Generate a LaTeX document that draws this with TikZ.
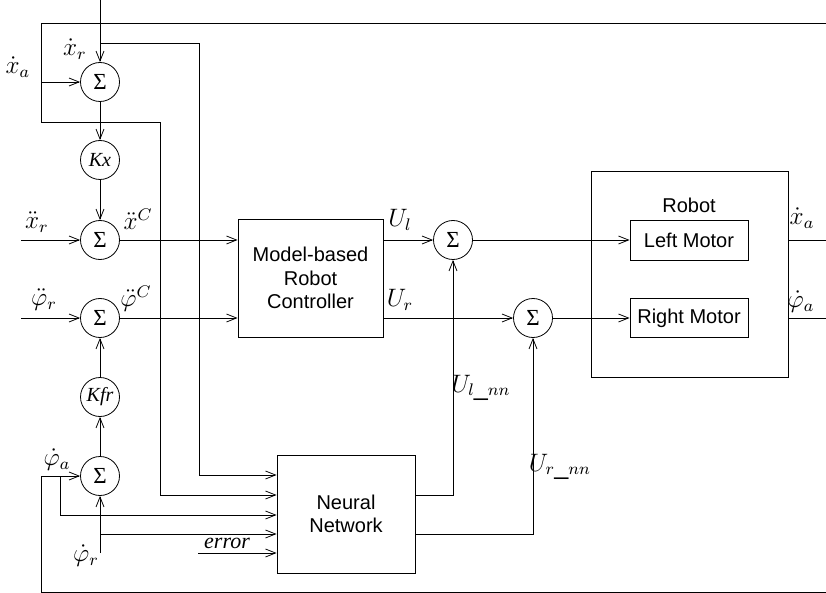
\documentclass[tikz,border=0pt]{standalone}
\usepackage{fontspec}
\setmainfont{Liberation Sans}
\newfontfamily\tms{Liberation Serif}
\usetikzlibrary{arrows.meta}
\newcommand{\mylbl}[1]{\scalebox{2.1}{\fontsize{12}{12}\selectfont$#1$}}
\begin{document}
\begin{tikzpicture}[x=1pt,y=-1pt,line width=0.8pt,
  >={Straight Barb[length=10pt,width=8pt,line width=0.8pt]},
  sumnode/.style={draw,circle,minimum size=39pt,inner sep=0pt,font=\fontsize{23}{23}\selectfont\tms},
  gainnode/.style={draw,circle,minimum size=39pt,inner sep=0pt,font=\fontsize{20}{20}\selectfont\tms\itshape},
  blockbox/.style={draw,rectangle,inner sep=0pt,align=center,font=\fontsize{20}{23.5}\selectfont},
  mlabel/.style={inner sep=0pt},
  txtlabel/.style={inner sep=0pt,font=\fontsize{20}{20}\selectfont}]
\useasboundingbox (0,0) rectangle (826,593);

% nodes
\node[sumnode] (s1) at (100,82) {Σ};
\node[gainnode] (kx) at (100,160) {Kx};
\node[sumnode] (s2) at (100,240) {Σ};
\node[sumnode] (s3) at (100,318) {Σ};
\node[gainnode] (kfr) at (100,397) {Kfr};
\node[sumnode] (s6) at (100,476) {Σ};
\node[blockbox,minimum width=145pt,minimum height=118pt] (mbc) at (310.5,278) {Model-based\\Robot\\Controller};
\node[sumnode] (s4) at (453,240) {Σ};
\node[sumnode] (s5) at (533,318) {Σ};
\node[blockbox,minimum width=138pt,minimum height=118pt,font=\fontsize{20}{23}\selectfont] (nn) at (346,514) {Neural\\Network};
\node[draw,rectangle,minimum width=197pt,minimum height=206pt,inner sep=0pt] (robot) at (689.5,274) {};
\node[txtlabel] (robotlbl) at (689,205) {Robot};
\node[blockbox,minimum width=118pt,minimum height=40pt] (lm) at (689,240) {Left Motor};
\node[blockbox,minimum width=118pt,minimum height=39pt] (rm) at (689,318) {Right Motor};

% helper coordinates
\coordinate (top) at (100,0);
\coordinate (br1) at (100,43);
\coordinate (fbTR) at (826,23);
\coordinate (fbBR) at (826,592);
\coordinate (inxr) at (21,240);
\coordinate (inpr) at (21,318);
\coordinate (inpdr) at (100,553);
\coordinate (brpdr) at (100,534);
\coordinate (err) at (198,553);
\coordinate (y475) at (0,475);
\coordinate (y495) at (0,495);
\coordinate (y515) at (0,515);
\coordinate (y534) at (0,534);
\coordinate (y553) at (0,553);
\coordinate (outxa) at (826,240);
\coordinate (outpa) at (826,318);

% left chain
\draw[->] (top) -- (s1.north);
\draw[->] (s1) -- (kx);
\draw[->] (kx) -- (s2);
\draw[->] (kfr) -- (s3);
\draw[->] (s6) -- (kfr);
\draw[->] (inxr) -- (s2.west);
\draw[->] (inpr) -- (s3.west);
\draw[->] (inpdr) -- (s6.south);

% to controller
\draw[->] (s2.east) -- (mbc.west |- s2);
\draw[->] (s3.east) -- (mbc.west |- s3);

% feedback top
\draw (fbTR) -- (41,23) -- (41,122) -- (160,122) -- (160,495);
\draw[->] (160,495) -- (nn.west |- y495);
\draw[->] (41,82) -- (s1.west);
% branch x_r dot
\draw[->] (br1) -- (199,43) |- (nn.west |- y475);
% feedback bottom
\draw (fbBR) -- (41,592) -- (41,476);
\draw[->] (41,476) -- (s6.west);
\draw[->] (60,476) |- (nn.west |- y515);
\draw[->] (brpdr) -- (nn.west |- y534);
\draw[->] (err) -- (nn.west |- y553);

% controller outputs
\draw[->] (mbc.east |- s4) -- (s4.west);
\draw[->] (mbc.east |- s5) -- (s5.west);
\draw[->] (nn.east |- y495) -| (s4.south);
\draw[->] (nn.east |- y534) -| (s5.south);
\draw[->] (s4.east) -- (lm.west);
\draw[->] (s5.east) -- (rm.west);
\draw (robot.east |- outxa) -- (outxa);
\draw (robot.east |- outpa) -- (outpa);

% labels
\node[mlabel] (lxr) at (75,49) {\mylbl{\dot{x}_{r}}};
\node[mlabel] (lxa) at (18,67) {\mylbl{\dot{x}_{a}}};
\node[mlabel] (lxrr) at (37,222) {\mylbl{\ddot{x}_{r}}};
\node[mlabel] (lxc) at (138,219) {\mylbl{\ddot{x}^{C}}};
\node[mlabel] (lpr) at (44,300) {\mylbl{\ddot{\varphi}_{r}}};
\node[mlabel] (lpc) at (136,299) {\mylbl{\ddot{\varphi}^{C}}};
\node[mlabel] (lpa) at (57,460) {\mylbl{\dot{\varphi}_{a}}};
\node[mlabel] (lpdr) at (86,556) {\mylbl{\dot{\varphi}_{r}}};
\node[inner sep=0pt,font=\fontsize{22}{22}\selectfont\tms\itshape] (lerr) at (227,543) {error};
\node[mlabel] (lul) at (400,220) {\mylbl{U_{l}}};
\node[mlabel] (lur) at (400,300) {\mylbl{U_{r}}};
\node[mlabel] (lulnn) at (481,388) {\mylbl{U_{l\_nn}}};
\node[mlabel] (lurnn) at (560,467) {\mylbl{U_{r\_nn}}};
\node[mlabel] (lxao) at (802,218) {\mylbl{\dot{x}_{a}}};
\node[mlabel] (lpao) at (801,302) {\mylbl{\dot{\varphi}_{a}}};
\end{tikzpicture}
\end{document}
